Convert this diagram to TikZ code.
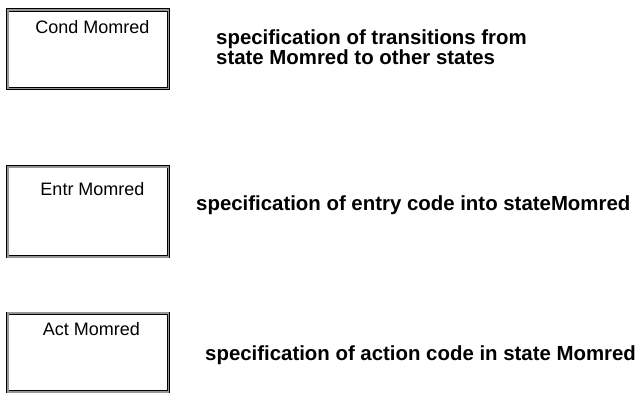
\documentclass[tikz,border=0pt]{standalone}
\usepackage{fontspec}
\setmainfont{Liberation Sans}
\definecolor{rimgray}{RGB}{150,150,150}

\begin{document}
\begin{tikzpicture}[x=1pt, y=-1pt,
    statebox/.style={draw=black, line width=0.7pt, double=rimgray,
      double distance=1.8pt, minimum width=160.8pt, inner sep=0pt},
    boxlabel/.style={inner sep=0pt, anchor=base,
      font=\fontsize{18}{20}\selectfont},
    spectext/.style={inner sep=0pt, anchor=base west, align=left,
      font=\fontsize{20.4}{19.5}\selectfont\bfseries}]
  \useasboundingbox (0,0) rectangle (642,394);
  % state boxes
  \node[statebox, minimum height=78.5pt] (condbox) at (88,49.15) {};
  \node[statebox, minimum height=90.1pt] (entrbox) at (88,211.65) {};
  \node[statebox, minimum height=78.4pt] (actbox) at (88,352.5) {};
  \node[boxlabel] (condlabel) at (92.5,33.3) {Cond Momred};
  \node[boxlabel] (entrlabel) at (92.5,195.7) {Entr Momred};
  \node[boxlabel] (actlabel) at (91.5,335.7) {Act Momred};
  % descriptions
  \node[spectext] (condspec) at (216,64)
    {specification of transitions from\\state Momred to other states};
  \node[spectext] (entrspec) at (196,210)
    {specification of entry code into stateMomred};
  \node[spectext] (actspec) at (205,360.5)
    {specification of action code in state Momred};
\end{tikzpicture}
\end{document}
